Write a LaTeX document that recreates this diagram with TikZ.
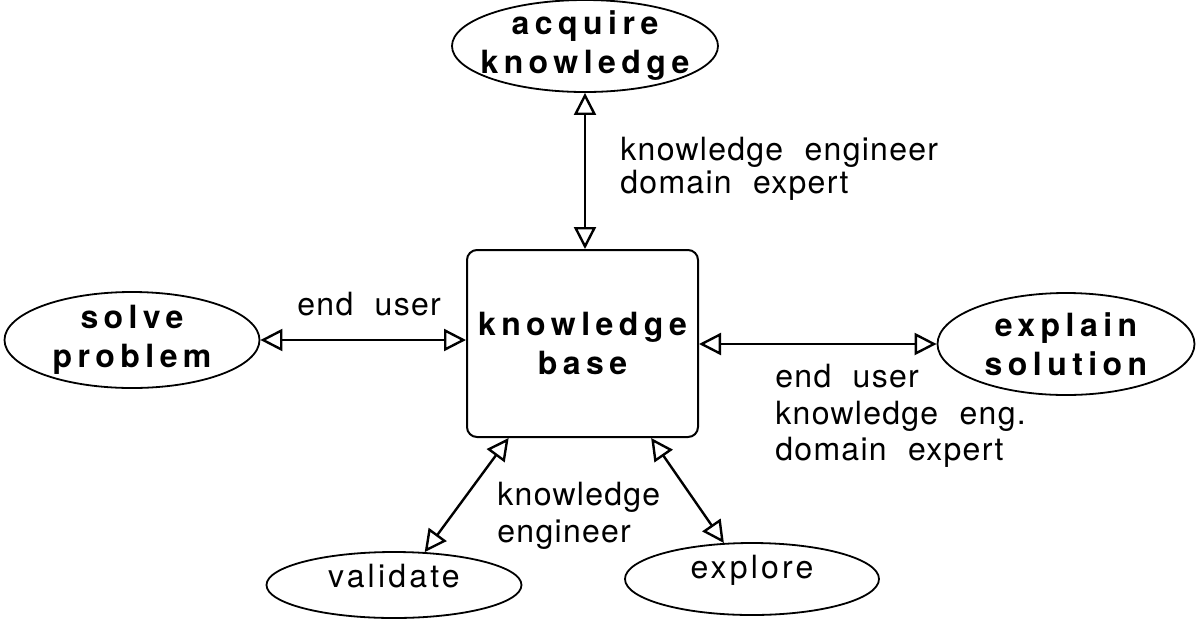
\documentclass[tikz,border=0pt]{standalone}
\usepackage{fontspec}
\setmainfont{TeX Gyre Heros}[LetterSpace=4,WordSpace=2.1]
\newfontfamily\wideboldfont{TeX Gyre Heros}[LetterSpace=17]
\newfontfamily\widefont{TeX Gyre Heros}[LetterSpace=10]
\usepackage{tikz}
\usetikzlibrary{shapes.geometric,arrows.meta,positioning}

\tikzset{
  task/.style={draw, ellipse, line width=0.9pt, inner sep=0pt},
  taskname/.style={font=\wideboldfont\bfseries\fontsize{16}{19.5}\selectfont, align=center, inner sep=0pt},
  taskplain/.style={font=\widefont\fontsize{16}{18}\selectfont, inner sep=0pt, yshift=4.5pt},
  role/.style={font=\fontsize{16}{18.25}\selectfont, align=left, inner sep=0pt, anchor=north west},
  link/.style={{Triangle[open,length=11pt,width=11pt]}-{Triangle[open,length=11pt,width=11pt]}, line width=1.2pt},
}

\begin{document}
\begin{tikzpicture}[x=0.5pt,y=-0.5pt]
    \useasboundingbox (0,0) rectangle (1196,618);

    % Knowledge base
    \node[draw, rounded corners=5pt, line width=1pt, minimum width=115.5pt, minimum height=93.5pt,
          taskname] (kb) at (582.5,343.5) {knowledge\\base};

    % Tasks
    \node[task, minimum width=133pt, minimum height=46pt,
          label={[taskname]center:acquire\\knowledge}] (acq) at (585,46) {};
    \node[task, minimum width=127.5pt, minimum height=48pt,
          label={[taskname]center:solve\\problem}] (solve) at (132,340) {};
    \node[task, minimum width=128.5pt, minimum height=51pt,
          label={[taskname]center:explain\\solution}] (expl) at (1066,344) {};
    \node[task, minimum width=127.5pt, minimum height=33pt,
          label={[taskplain]center:validate}] (valid) at (394,585) {};
    \node[task, minimum width=127pt, minimum height=36pt,
          label={[taskplain]center:explore}] (explore) at (752,579) {};

    % Links
    \draw[link] (acq.south) -- (acq.south |- kb.north);
    \draw[link] (solve.east) -- (solve.east -| kb.west);
    \draw[link] (kb.east |- expl.west) -- (expl.west);
    \draw[link] (kb.232) -- (valid.47);
    \draw[link] (kb.306) -- (explore.128);

    % Roles
    \node[role, font=\fontsize{16}{16.5}\selectfont] (kedx) at (620,137) {knowledge engineer\\domain expert};
    \node[role] (eu) at (297,292) {end user};
    \node[role] (all) at (775,364) {end user\\knowledge eng.\\domain expert};
    \node[role] (ke) at (497,482) {knowledge\\engineer};
\end{tikzpicture}
\end{document}
